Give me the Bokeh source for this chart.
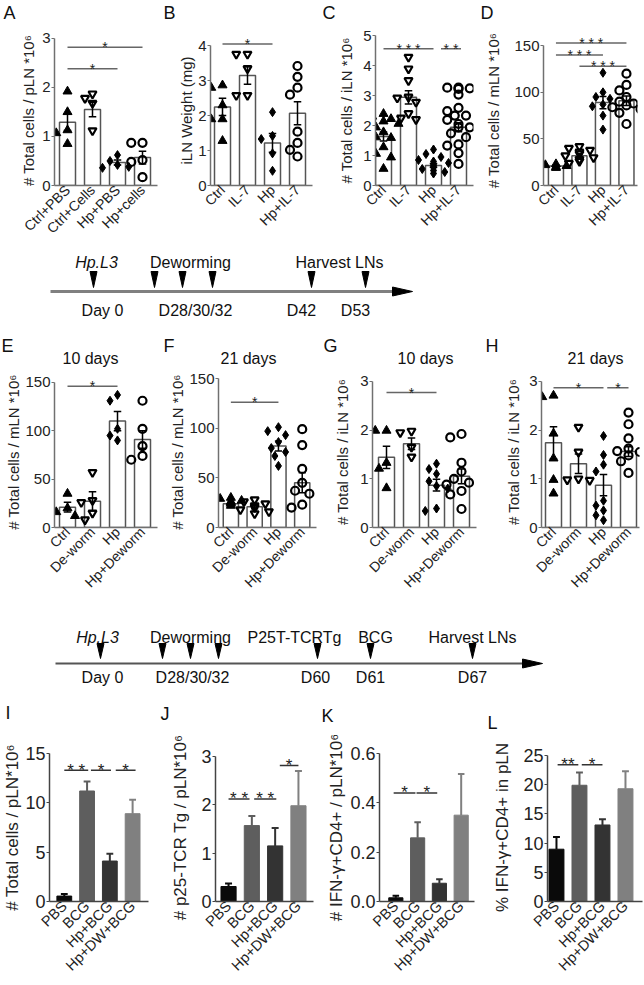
import math
from bokeh.plotting import figure
from bokeh.layouts import column, row
from bokeh.models import Range1d, FixedTicker, Label, NumeralTickFormatter
from bokeh.embed import file_html
from bokeh.resources import INLINE
from bokeh.core.properties import value

FONT = "Liberation Sans"

# ---------------- data ----------------
groups_A = ["Ctrl+PBS", "Ctrl+Cells", "Hp+PBS", "Hp+cells"]
groups_BCD = ["Ctrl", "IL-7", "Hp", "Hp+IL-7"]
groups_EFGH = ["Ctrl", "De-worm", "Hp", "Hp+Deworm"]
groups_IJKL = ["PBS", "BCG", "Hp+BCG", "Hp+DW+BCG"]

A_mean = [1.29, 1.55, 0.47, 0.57]
A_sem = [0.17, 0.15, 0.05, 0.13]
A_pts = [[1.92, 1.5, 1.13, 1.07, 0.85], [1.87, 1.78, 1.68, 1.12],
         [0.62, 0.5, 0.42, 0.38, 0.36], [0.87, 0.87, 0.52, 0.48, 0.17]]
A_ticks = [0, 1, 2, 3]
A_sig = [(1, 4, 2.82, "*"), (1, 3, 2.38, "*")]

B_mean = [2.25, 3.15, 1.22, 2.07]
B_sem = [0.25, 0.25, 0.27, 0.33]
B_pts = [[2.87, 2.8, 2.3, 1.9, 1.9, 1.28], [3.76, 3.76, 3.35, 2.58, 2.58],
         [2.1, 1.42, 1.33, 0.92, 0.42], [3.42, 3.11, 2.8, 2.6, 1.54, 1.22, 1.02, 0.83]]
B_ticks = [0, 1, 2, 3, 4]
B_sig = [(1, 3, 4.05, "*")]

C_mean = [1.63, 2.94, 0.67, 1.94]
C_sem = [0.15, 0.22, 0.06, 0.15]
C_pts = [[2.39, 2.3, 2.22, 2.14, 2.06, 1.94, 1.78, 1.61, 1.59, 1.28, 1.06, 0.94, 0.56],
         [4.28, 3.89, 3.5, 2.95, 2.92, 2.78, 2.4, 2.25, 2.2],
         [1.2, 1.05, 0.95, 0.85, 0.8, 0.75, 0.7, 0.65, 0.6, 0.55, 0.5, 0.45, 0.4],
         [3.26, 3.26, 3.24, 3.22, 3.03, 2.59, 2.48, 2.33, 2.33, 2.19, 2.05, 1.94, 1.94,
          1.74, 1.61, 1.37, 1.33, 1.08, 0.72]]
C_ticks = [0, 1, 2, 3, 4, 5]
C_sig = [(1, 3, 4.56, "* * *"), (3.3, 4.1, 4.56, "* *")]

D_mean = [21, 32, 89, 91]
D_sem = [1, 2, 6.5, 5]
D_pts = [[23, 22, 21, 20, 19], [42, 40, 38, 36, 34, 32, 30, 28, 26, 24],
         [121, 100, 95, 93, 87, 85, 75, 60], [120, 108, 102, 95, 90, 88, 86, 84, 82, 78, 66]]
D_ticks = [0, 50, 100, 150]
D_sig = [(1, 4, 153, "* * *"), (1, 3, 140, "* * *"), (2, 4, 128, "* * *")]

E_mean = [21, 27, 110, 91]
E_sem = [5, 10, 10, 9]
E_pts = [[35, 20, 16, 12], [57, 28, 26, 15, 8], [137, 131, 102, 95, 90], [131, 102, 84, 74, 70]]
E_ticks = [0, 50, 100, 150]
E_sig = [(1, 3, 146, "*")]

F_mean = [24, 21, 82, 45]
F_sem = [1.5, 2, 5, 10]
F_pts = [[30, 29, 27, 26, 25, 24, 22], [28, 26, 24, 22, 20, 18, 16, 14],
         [101, 97, 93, 86, 80, 76, 72, 62], [99, 83, 59, 45, 37, 34, 23, 20]]
F_ticks = [0, 50, 100, 150]
F_sig = [(1, 3, 126, "*")]

G_mean = [1.44, 1.72, 0.87, 1.05]
G_sem = [0.23, 0.12, 0.12, 0.15]
G_pts = [[1.99, 1.99, 1.33, 1.21, 0.81], [1.98, 1.95, 1.65, 1.45],
         [1.31, 1.2, 1.1, 0.95, 0.85, 0.8, 0.39, 0.34],
         [1.92, 1.85, 1.33, 1.15, 1.0, 0.92, 0.88, 0.75, 0.68, 0.38]]
G_ticks = [0, 1, 2, 3]
G_sig = [(1, 3, 2.77, "*")]

H_mean = [1.74, 1.31, 0.87, 1.56]
H_sem = [0.33, 0.2, 0.22, 0.1]
H_pts = [[2.71, 2.68, 1.93, 1.42, 0.98, 0.7], [2.06, 1.55, 1.0, 0.98, 0.97],
         [1.88, 1.49, 1.29, 1.15, 0.55, 0.45, 0.35, 0.25, 0.15],
         [2.36, 2.12, 1.83, 1.62, 1.57, 1.55, 1.48, 1.36, 1.12]]
H_ticks = [0, 1, 2, 3]
H_sig = [(1, 3, 2.87, "*"), (3.15, 4, 2.87, "*")]

I_mean = [0.55, 11.2, 4.1, 8.9]
I_err = [0.22, 0.95, 0.75, 1.4]
I_ticks = [0, 5, 10, 15]
I_sig = [(1, 2.05, 13.3, "* *"), (2.17, 3.05, 13.3, "*"), (3.26, 4.13, 13.3, "*")]

J_mean = [0.31, 1.57, 1.15, 1.98]
J_err = [0.06, 0.2, 0.37, 0.72]
J_ticks = [0, 1, 2, 3]
J_sig = [(1, 1.9, 2.12, "* *"), (2.1, 3.05, 2.12, "* *"), (3.2, 4.0, 2.81, "*")]

K_mean = [0.015, 0.258, 0.074, 0.35]
K_err = [0.008, 0.063, 0.016, 0.167]
K_ticks = [0, 0.2, 0.4, 0.6]
K_sig = [(0.9, 1.9, 0.44, "*"), (1.95, 2.9, 0.44, "*")]

L_mean = [8.95, 19.9, 13.1, 19.3]
L_err = [2.1, 2.2, 1.0, 3.0]
L_ticks = [0, 5, 10, 15, 20, 25]
L_sig = [(1.05, 1.95, 23.4, "**"), (2.1, 3.0, 23.4, "*")]

bar_colors_IJKL = ["#0a0a0a", "#5e5e5e", "#333333", "#808080"]

panel_letters_1 = ["A", "B", "C", "D"]
panel_letters_2 = ["E", "F", "G", "H"]
panel_letters_3 = ["I", "J", "K", "L"]
panel_titles_2 = ["10 days", "21 days", "10 days", "21 days"]

tl1_events = ["Hp.L3", "Deworming", "Harvest LNs"]
tl1_days = ["Day 0", "D28/30/32", "D42", "D53"]
tl2_events = ["Hp.L3", "Deworming", "P25T-TCRTg", "BCG", "Harvest LNs"]
tl2_days = ["Day 0", "D28/30/32", "D60", "D61", "D67"]

# ---------------- layout (page pixels; Bokeh page has no body margin) ----------------
W = 644
HDR_TOP, HDR_H = 0, 24
ROW1_TOP, ROW1_H = 24, 229
TL1_TOP, TL1_H = 253, 115
ROW2_TOP, ROW2_H = 368, 237
TL2_TOP, TL2_H = 605, 130
ROW3_TOP, ROW3_H = 735, 249

letters1_xy = [(3, 12), (163, 12), (322, 12), (480, 12)]
letters2_xy = [(1, 345), (163, 345), (323, 345), (485, 345)]
titles2_x = [90, 248, 425, 595]
titles2_y = 358
letters3_xy = [(5, 712), (160, 713), (321, 715), (487, 722)]

tl1_event_x, tl1_event_y = [96, 190, 339], 262
tl1_day_x, tl1_day_y = [102, 195, 301, 355], 310
tl1_arrow_x = [93, 154, 182, 212, 311, 365]
tl2_event_x, tl2_event_y = [97, 190, 294, 375, 472], 637
tl2_day_x, tl2_day_y = [102, 192, 315, 370, 472], 677
tl2_arrow_x = [100, 162, 190, 218, 317, 370, 472]

MARKERS = ["triangle", "inverted_triangle", "diamond", "circle"]
FILLED = [True, False, True, False]


def swarm(vals, ppux, ppuy, size=8.5):
    placed, offs = [], []
    for v in vals:
        y = v * ppuy
        off = 0
        for o in [0, -0.3, 0.3, -0.15, 0.15, -0.45, 0.45, -0.6, 0.6]:
            x = o * ppux
            if all((x - a) ** 2 + (y - b) ** 2 >= size ** 2 for a, b in placed):
                off = o
                break
        placed.append((off * ppux, y))
        offs.append(off)
    return offs


def make_panel(geo, groups, means, errs, ticks, ytitle, sig, pts=None, colors=None,
               big=False, yfmt=None):
    fx0, w, rtop, h = geo["fx0"], geo["w"], geo["rtop"], geo["h"]
    fl, fb, ttp = geo["fl"], geo["fb"], geo["ttp"]
    x0, ppux, x1, yend = geo["x0"], geo["ppu"], geo["x1"], geo["yend"]
    top_val = ticks[-1]
    ppuy = (fb - ttp) / top_val
    ft = max(rtop, round(fb - yend * ppuy))
    fr = min(fx0 + w, round(fl + (x1 - x0) * ppux))
    mbl, mbr = fl - fx0, fx0 + w - fr
    mbt, mbb = ft - rtop, rtop + h - fb
    xr = Range1d(x0, x0 + (fr - fl) / ppux)
    yr = Range1d(0, (fb - ft) / ppuy)
    p = figure(width=w, height=h, x_range=xr, y_range=yr, output_backend="svg",
               toolbar_location=None, min_border_left=mbl, min_border_right=mbr,
               min_border_top=mbt, min_border_bottom=mbb)
    p.outline_line_color = None
    p.grid.grid_line_color = None

    xs = [1, 2, 3, 4]
    axis_col = "#444444" if big else "#707070"
    if big:
        tops = [m + e for m, e in zip(means, errs)]
        p.vbar(x=xs, top=means, width=0.65, fill_color=colors, line_color=colors, line_width=1)
        p.segment(x0=xs, y0=means, x1=xs, y1=tops, line_color=colors, line_width=2)
        p.segment(x0=[x - 0.15 for x in xs], y0=tops, x1=[x + 0.15 for x in xs], y1=tops,
                  line_color=colors, line_width=2)
    else:
        p.vbar(x=xs, top=means, width=0.64, fill_color="white", line_color="#555555", line_width=1.5)
        for i, vals in enumerate(pts):
            offs = swarm(vals, ppux, ppuy)
            px = [xs[i] + o for o in offs]
            if FILLED[i]:
                p.scatter(px, vals, marker=MARKERS[i], size=9, fill_color="black", line_color="black")
            else:
                p.scatter(px, vals, marker=MARKERS[i], size=8, fill_color=None,
                          line_color="black", line_width=2.2)
        lo = [m - e for m, e in zip(means, errs)]
        hi = [m + e for m, e in zip(means, errs)]
        p.segment(x0=xs, y0=lo, x1=xs, y1=hi, line_color="black", line_width=1.5)
        p.segment(x0=[x - 0.15 for x in xs], y0=hi, x1=[x + 0.15 for x in xs], y1=hi,
                  line_color="black", line_width=1.5)
        p.segment(x0=[x - 0.15 for x in xs], y0=lo, x1=[x + 0.15 for x in xs], y1=lo,
                  line_color="black", line_width=1.5)

    for a, b, yv, s in sig:
        p.segment(x0=[a], y0=[yv], x1=[b], y1=[yv], line_color="#333333" if big else "#666666",
                  line_width=1.5)
        p.add_layout(Label(x=(a + b) / 2, y=yv, text=s, text_align="center",
                           text_baseline="alphabetic", text_font=FONT,
                           text_font_size="17px" if big else "14px", text_color="#222222"))

    p.xaxis.ticker = FixedTicker(ticks=xs)
    p.xaxis.major_label_overrides = {x: g for x, g in zip(xs, groups)}
    p.xaxis.major_label_orientation = math.pi / 4
    p.xaxis.major_tick_out = 0
    p.xaxis.major_tick_in = 0
    p.xaxis.minor_tick_line_color = None
    p.xaxis.major_label_standoff = 2
    p.xaxis.bounds = (xr.start, xr.end)
    p.yaxis.ticker = FixedTicker(ticks=ticks)
    p.yaxis.bounds = (0, top_val)
    p.yaxis.minor_tick_line_color = None
    p.yaxis.major_tick_out = 3
    p.yaxis.major_tick_in = 0
    p.yaxis.major_label_standoff = 1
    p.yaxis.axis_label = ytitle
    p.yaxis.axis_label_standoff = geo.get("tso", 0)
    if yfmt:
        p.yaxis.formatter = NumeralTickFormatter(format=yfmt)
    for ax in (p.xaxis, p.yaxis):
        ax.axis_line_color = axis_col
        ax.axis_line_width = 1.5
        ax.major_tick_line_color = axis_col
        ax.major_label_text_font = FONT
        ax.axis_label_text_font = FONT
        ax.axis_label_text_font_style = "normal"
        ax.major_label_text_color = "#222222"
        ax.axis_label_text_color = "#222222"
    p.xaxis.major_tick_line_color = None
    p.yaxis.major_label_text_font_size = "18px" if big else "15px"
    p.xaxis.major_label_text_font_size = "14.5px" if big else "14px"
    p.yaxis.axis_label_text_font_size = "17px" if big else "15px"
    return p


def geo(fx0, w, rtop, h, fl, fb, ttp, x0, ppu, x1, yend, tso):
    return dict(fx0=fx0, w=w, rtop=rtop, h=h, fl=fl, fb=fb, ttp=ttp, x0=x0, ppu=ppu,
                x1=x1, yend=yend, tso=tso)


def strip(top, h):
    p = figure(width=W, height=h, x_range=Range1d(0, W), y_range=Range1d(top + h, top),
               output_backend="svg", toolbar_location=None, min_border=0)
    p.axis.visible = False
    p.grid.grid_line_color = None
    p.outline_line_color = None
    return p


def add_text(p, xs, ys, texts, size, align="center", style="normal"):
    p.text(x=xs, y=ys, text=texts, text_font=value(FONT), text_font_size=size,
           text_font_style=style, text_align=align, text_baseline="middle", text_color="#111111")


hdr = strip(HDR_TOP, HDR_H)
add_text(hdr, [a for a, b in letters1_xy], [b for a, b in letters1_xy], panel_letters_1, "18px", "left")

pA = make_panel(geo(0, 162, ROW1_TOP, ROW1_H, 54, 185, 35, 0.48, 25, 4.6, 3.05, 2),
                groups_A, A_mean, A_sem, A_ticks, "# Total cells / pLN *10⁶", A_sig, pts=A_pts)
pB = make_panel(geo(162, 160, ROW1_TOP, ROW1_H, 210, 185, 35, 0.52, 25, 4.6, 4.35, 0),
                groups_BCD, B_mean, B_sem, B_ticks, "iLN Weight (mg)", B_sig, pts=B_pts)
pC = make_panel(geo(322, 160, ROW1_TOP, ROW1_H, 375, 185, 35, 0.68, 25, 4.6, 5.0, 5),
                groups_BCD, C_mean, C_sem, C_ticks, "# Total cells / iLN *10⁶", C_sig, pts=C_pts)
pD = make_panel(geo(482, 162, ROW1_TOP, ROW1_H, 539, 185, 35, 0.47, 24.5, 4.45, 163, 9),
                groups_BCD, D_mean, D_sem, D_ticks, "# Total cells / mLN *10⁶", D_sig, pts=D_pts)

t1 = strip(TL1_TOP, TL1_H)
add_text(t1, tl1_event_x[:1], [tl1_event_y], tl1_events[:1], "16px", style="italic")
add_text(t1, tl1_event_x[1:], [tl1_event_y] * 2, tl1_events[1:], "16px")
add_text(t1, tl1_day_x, [tl1_day_y] * 4, tl1_days, "16px")
t1.patches(xs=[[x - 3.5, x + 3.5, x] for x in tl1_arrow_x], ys=[[271, 271, 287] for _ in tl1_arrow_x],
           fill_color="black", line_color="black")
t1.segment(x0=[50], y0=[291], x1=[398], y1=[291], line_color="#808080", line_width=3)
t1.patches(xs=[[392, 392, 412]], ys=[[286.5, 295.5, 291]], fill_color="black", line_color="black")
add_text(t1, [a for a, b in letters2_xy], [b for a, b in letters2_xy], panel_letters_2, "18px", "left")
add_text(t1, titles2_x, [titles2_y] * 4, panel_titles_2, "16px")

pE = make_panel(geo(0, 166, ROW2_TOP, ROW2_H, 54, 527, 378, 0.48, 25, 4.6, 156, 0),
                groups_EFGH, E_mean, E_sem, E_ticks, "# Total cells / mLN *10⁶", E_sig, pts=E_pts)
pF = make_panel(geo(166, 156, ROW2_TOP, ROW2_H, 213, 527, 378, 0.48, 25, 4.6, 152, 0),
                groups_EFGH, F_mean, F_sem, F_ticks, "# Total cells / mLN *10⁶", F_sig, pts=F_pts)
pG = make_panel(geo(322, 160, ROW2_TOP, ROW2_H, 372, 527, 378, 0.44, 25, 4.6, 3.1, 6),
                groups_EFGH, G_mean, G_sem, G_ticks, "# Total cells / iLN *10⁶", G_sig, pts=G_pts)
pH = make_panel(geo(482, 162, ROW2_TOP, ROW2_H, 541, 527, 378, 0.52, 25, 4.45, 3.1, 4),
                groups_EFGH, H_mean, H_sem, H_ticks, "# Total cells / iLN *10⁶", H_sig, pts=H_pts)

t2 = strip(TL2_TOP, TL2_H)
add_text(t2, tl2_event_x[:1], [tl2_event_y], tl2_events[:1], "16px", style="italic")
add_text(t2, tl2_event_x[1:], [tl2_event_y] * 4, tl2_events[1:], "16px")
add_text(t2, tl2_day_x, [tl2_day_y] * 5, tl2_days, "16px")
t2.patches(xs=[[x - 3.5, x + 3.5, x] for x in tl2_arrow_x], ys=[[643, 643, 658] for _ in tl2_arrow_x],
           fill_color="black", line_color="black")
t2.segment(x0=[55], y0=[663], x1=[528], y1=[663], line_color="#555555", line_width=2)
t2.patches(xs=[[522, 522, 542]], ys=[[658.5, 667.5, 663]], fill_color="black", line_color="black")
add_text(t2, [a for a, b in letters3_xy], [b for a, b in letters3_xy], panel_letters_3, "18px", "left")

pI = make_panel(geo(0, 166, ROW3_TOP, ROW3_H, 48, 901, 751, 0.35, 23, 4.7, 15, 0),
                groups_IJKL, I_mean, I_err, I_ticks, "# Total cells / pLN*10⁶", I_sig,
                colors=bar_colors_IJKL, big=True)
pJ = make_panel(geo(166, 158, ROW3_TOP, ROW3_H, 215, 901, 751, 0.44, 23.3, 4.65, 3.05, 8),
                groups_IJKL, J_mean, J_err, J_ticks, "# p25-TCR Tg / pLN*10⁶", J_sig,
                colors=bar_colors_IJKL, big=True)
pK = make_panel(geo(324, 160, ROW3_TOP, ROW3_H, 375, 901, 753, 0.25, 22.7, 4.6, 0.6, 1),
                groups_IJKL, K_mean, K_err, K_ticks, "# IFN-γ+CD4+ / pLN*10⁶", K_sig,
                colors=bar_colors_IJKL, big=True, yfmt="0.0")
pL = make_panel(geo(484, 160, ROW3_TOP, ROW3_H, 547, 901, 752, 0.61, 23, 4.75, 25.3, 8),
                groups_IJKL, L_mean, L_err, L_ticks, "% IFN-γ+CD4+ in pLN", L_sig,
                colors=bar_colors_IJKL, big=True)

layout = column(hdr, row(pA, pB, pC, pD), t1, row(pE, pF, pG, pH), t2, row(pI, pJ, pK, pL))
open("out.html", "w").write(file_html(layout, INLINE))
